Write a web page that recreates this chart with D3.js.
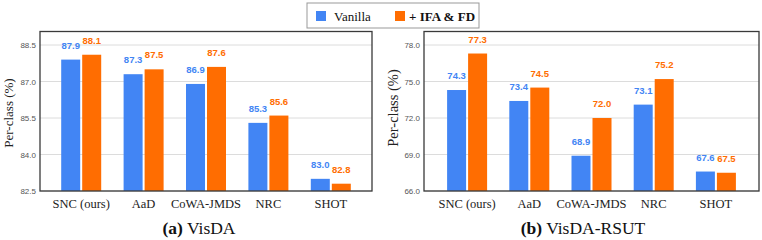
<!DOCTYPE html>
<html><head><meta charset="utf-8">
<script src="https://cdn.jsdelivr.net/npm/d3@7"></script>
<style>body{margin:0;background:#fff}svg{display:block}</style>
</head><body>
<svg id="c" width="762" height="240"></svg>
<script>
const categories = ["SNC (ours)", "AaD", "CoWA-JMDS", "NRC", "SHOT"];
const seriesNames = ["Vanilla", "+ IFA & FD"];
const colors = ["#4285F4", "#FF6D01"];
const visdaVanilla = [87.9, 87.3, 86.9, 85.3, 83.0];
const visdaIFA = [88.1, 87.5, 87.6, 85.6, 82.8];
const rsutVanilla = [74.3, 73.4, 68.9, 73.1, 67.6];
const rsutIFA = [77.3, 74.5, 72.0, 75.2, 67.5];
const visdaTicks = [82.5, 84.0, 85.5, 87.0, 88.5];
const rsutTicks = [66.0, 69.0, 72.0, 75.0, 78.0];

const SERIF = "'Liberation Serif', 'Times New Roman', serif";
const SANS = "'Liberation Sans', Arial, sans-serif";
const svg = d3.select("#c");

function panel(cfg) {
  const g = svg.append("g");
  const x = d3.scaleBand().domain(categories).range([cfg.x0 + cfg.pad, cfg.x1 - cfg.pad]);
  const y = d3.scaleLinear().domain([cfg.ticks[0], cfg.ticks[cfg.ticks.length - 1]]).range([191, 45]);
  g.append("g").selectAll("line").data(cfg.ticks).join("line")
    .attr("x1", cfg.x0).attr("x2", cfg.x1)
    .attr("y1", d => y(d)).attr("y2", d => y(d))
    .attr("stroke", "#dcdcdc").attr("stroke-width", 1);
  const ax = d3.axisLeft(y).tickValues(cfg.ticks).tickFormat(d3.format(".1f")).tickSize(0).tickPadding(4);
  const axg = g.append("g").attr("transform", `translate(${cfg.x0},0)`).call(ax);
  axg.select(".domain").remove();
  axg.selectAll("text").attr("font-family", SANS).attr("font-size", 8).attr("fill", "#555");
  const bw = 19, gap = 2;
  const data = [];
  categories.forEach((c, i) => {
    cfg.series.forEach((s, j) => data.push({c, j, v: s[i]}));
  });
  const cx = c => x(c) + x.bandwidth() / 2;
  const bx = d => cx(d.c) + (d.j === 0 ? -bw - gap / 2 : gap / 2);
  g.append("g").selectAll("rect").data(data).join("rect")
    .attr("x", bx).attr("width", bw)
    .attr("y", d => y(d.v)).attr("height", d => 191 - y(d.v))
    .attr("fill", d => colors[d.j]);
  g.append("g").selectAll("text").data(data).join("text")
    .attr("x", d => bx(d) + bw / 2).attr("y", d => y(d.v) - 11)
    .attr("text-anchor", "middle")
    .attr("font-family", SANS).attr("font-size", 9.5).attr("font-weight", "bold")
    .attr("fill", d => colors[d.j]).text(d => d.v.toFixed(1));
  g.append("rect").attr("x", cfg.x0).attr("y", 31.5).attr("width", cfg.x1 - cfg.x0).attr("height", 191 - 31.5)
    .attr("fill", "none").attr("stroke", "#3a3a3a").attr("stroke-width", 1.3);
  g.append("g").selectAll("text").data(categories).join("text")
    .attr("x", d => cx(d)).attr("y", 207.5).attr("text-anchor", "middle")
    .attr("font-family", SERIF).attr("font-size", 12.5).attr("fill", "#222")
    .text(d => d);
  g.append("text").attr("transform", `translate(${cfg.titleX},${cfg.titleY}) rotate(-90)`).attr("text-anchor", "middle")
    .attr("dominant-baseline", "central")
    .attr("font-family", SERIF).attr("font-size", cfg.titleSize).attr("fill", "#222")
    .text("Per-class (%)");
  const cap = g.append("text").attr("x", cfg.capX).attr("y", 234).attr("text-anchor", "middle")
    .attr("font-family", SERIF).attr("font-size", 17.5).attr("fill", "#111");
  cap.append("tspan").attr("font-weight", "bold").text(cfg.capA);
  cap.append("tspan").text(" " + cfg.capB);
}

panel({x0: 40, x1: 372, pad: 10, ticks: visdaTicks, series: [visdaVanilla, visdaIFA], titleX: 8, titleY: 113, titleSize: 13, capX: 199, capA: "(a)", capB: "VisDA"});
panel({x0: 424, x1: 759, pad: 12, ticks: rsutTicks, series: [rsutVanilla, rsutIFA], titleX: 393, titleY: 108, titleSize: 14.5, capX: 583, capA: "(b)", capB: "VisDA-RSUT"});

const lg = svg.append("g");
lg.append("rect").attr("x", 307).attr("y", 3).attr("width", 172).attr("height", 25)
  .attr("fill", "#fff").attr("stroke", "#999").attr("stroke-width", 1);
const items = [{x: 316, tx: 334, bold: false}, {x: 395, tx: 409, bold: true}];
items.forEach((it, i) => {
  lg.append("rect").attr("x", it.x).attr("y", 11).attr("width", 10).attr("height", 10).attr("fill", colors[i]);
  lg.append("text").attr("x", it.tx).attr("y", 20.5)
    .attr("font-family", SERIF).attr("font-size", 13)
    .attr("font-weight", it.bold ? "bold" : "normal").attr("fill", "#111").text(seriesNames[i]);
});
</script>
</body></html>
